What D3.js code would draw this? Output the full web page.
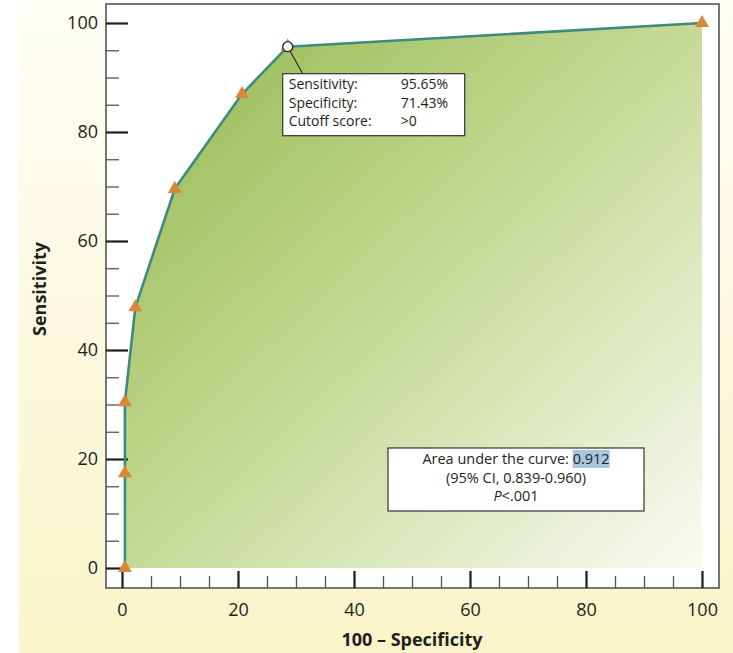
<!DOCTYPE html>
<html>
<head>
<meta charset="utf-8">
<script src="https://cdn.jsdelivr.net/npm/d3@7"></script>
<style>
  html, body { margin: 0; padding: 0; background: #ffffff; }
  svg { display: block; font-family: "Open Sans", "Noto Sans", sans-serif; }
</style>
</head>
<body>
<svg id="chart" width="733" height="653"></svg>
<script>
// ---- data ----
const falsePositiveRate = [0.5, 0.5, 0.5, 2.3, 9.1, 20.7, 28.57, 100];   // 100 - Specificity
const sensitivity       = [0, 17.39, 30.43, 47.83, 69.57, 86.96, 95.65, 100];
const cutoffIndex = 6;
const cutoffLines = [
  ["Sensitivity:", "95.65%"],
  ["Specificity:", "71.43%"],
  ["Cutoff score:", ">0"]
];
const aucLabel = "Area under the curve: ";
const aucValue = "0.912";
const ciLabel = "(95% CI, 0.839-0.960)";
const majorTicks = [0, 20, 40, 60, 80, 100];
const minorTicks = d3.range(5, 100, 5).filter(v => v % 20 !== 0);
const xTitle = "100 \u2013 Specificity";
const yTitle = "Sensitivity";

// ---- layout ----
const svg = d3.select("#chart");
const x = d3.scaleLinear().domain([0, 100]).range([122, 702]);
const y = d3.scaleLinear().domain([0, 100]).range([568, 23]);
const frame = {left: 106, top: 4, right: 719, bottom: 588};
const annFont = 14, annStep = 18.5;

const defs = svg.append("defs");
const bg = defs.append("linearGradient").attr("id", "bgGrad")
  .attr("x1", 0).attr("y1", 0).attr("x2", 0).attr("y2", 1);
bg.append("stop").attr("offset", 0).attr("stop-color", "#fffef6");
bg.append("stop").attr("offset", 1).attr("stop-color", "#f9f4c9");

const ag = defs.append("linearGradient").attr("id", "areaGrad")
  .attr("x1", 0).attr("y1", 0).attr("x2", 1).attr("y2", 1);
ag.append("stop").attr("offset", 0).attr("stop-color", "#92b74b");
ag.append("stop").attr("offset", 0.5).attr("stop-color", "#c6da96");
ag.append("stop").attr("offset", 1).attr("stop-color", "#fafbf4");

// background panel
svg.append("rect").attr("x", 19).attr("y", 0).attr("width", 733 - 19).attr("height", 653)
  .attr("fill", "url(#bgGrad)");

// plot frame
svg.append("rect")
  .attr("x", frame.left).attr("y", frame.top)
  .attr("width", frame.right - frame.left).attr("height", frame.bottom - frame.top)
  .attr("fill", "#ffffff").attr("stroke", "#555555").attr("stroke-width", 1.6);

// area under curve
const pts = falsePositiveRate.map((v, i) => ({fx: v, s: sensitivity[i]}));
const area = d3.area().x(d => x(d.fx)).y0(y(0)).y1(d => y(d.s));
svg.append("path").datum(pts).attr("d", area).attr("fill", "url(#areaGrad)");

// ticks - y axis (inside, pointing right)
const yMajor = svg.append("g").attr("transform", `translate(${frame.left},0)`)
  .call(d3.axisRight(y).tickValues(majorTicks).tickSize(22).tickFormat(""));
const yMinor = svg.append("g").attr("transform", `translate(${frame.left},0)`)
  .call(d3.axisRight(y).tickValues(minorTicks).tickSize(13).tickFormat(""));
// ticks - x axis (inside, pointing up)
const xMajor = svg.append("g").attr("transform", `translate(0,${frame.bottom})`)
  .call(d3.axisTop(x).tickValues(majorTicks).tickSize(17).tickFormat(""));
const xMinor = svg.append("g").attr("transform", `translate(0,${frame.bottom})`)
  .call(d3.axisTop(x).tickValues(minorTicks).tickSize(12).tickFormat(""));
[yMajor, yMinor, xMajor, xMinor].forEach(g => g.select(".domain").remove());
[yMajor, xMajor].forEach(g => g.selectAll(".tick line").attr("stroke", "#1e1e1e").attr("stroke-width", 2.2));
[yMinor, xMinor].forEach(g => g.selectAll(".tick line").attr("stroke", "#555555").attr("stroke-width", 1.3));

// tick labels
const yLab = svg.append("g").attr("transform", `translate(${frame.left - 8},0)`)
  .call(d3.axisLeft(y).tickValues(majorTicks).tickSize(0).tickPadding(0));
const xLab = svg.append("g").attr("transform", `translate(0,${frame.bottom})`)
  .call(d3.axisBottom(x).tickValues(majorTicks).tickSize(0).tickPadding(15));
[yLab, xLab].forEach(g => {
  g.select(".domain").remove();
  g.selectAll("text").attr("font-size", 18).attr("fill", "#231f20")
    .attr("font-family", "'Open Sans', sans-serif");
});

// axis titles
svg.append("text").attr("x", 412).attr("y", 646).attr("text-anchor", "middle")
  .attr("font-size", 18).attr("font-weight", "bold").attr("fill", "#231f20").text(xTitle);
svg.append("text").attr("transform", "translate(46,289) rotate(-90)").attr("text-anchor", "middle")
  .attr("font-size", 18).attr("font-weight", "bold").attr("fill", "#231f20").text(yTitle);

// ROC line
const line = d3.line().x(d => x(d.fx)).y(d => y(d.s));
svg.append("path").datum(pts).attr("d", line).attr("fill", "none")
  .attr("stroke", "#3f8a7e").attr("stroke-width", 2.6).attr("stroke-linejoin", "round");

// triangle markers
const tri = d3.symbol().type(d3.symbolTriangle).size(85);
svg.append("g").selectAll("path").data(pts).join("path")
  .attr("transform", d => `translate(${x(d.fx)},${y(d.s)})`)
  .attr("d", tri).attr("fill", "#d9883a");

// cutoff annotation
const cp = pts[cutoffIndex];
const cx = x(cp.fx), cy = y(cp.s);
const box = {x: cx - 5, y: cy + 27, w: 182, h: 62};
svg.append("line").attr("x1", cx).attr("y1", cy).attr("x2", cx + 15).attr("y2", box.y)
  .attr("stroke", "#222").attr("stroke-width", 1.1);
svg.append("circle").attr("cx", cx).attr("cy", cy).attr("r", 5)
  .attr("fill", "#ffffff").attr("stroke", "#222").attr("stroke-width", 1.3);
svg.append("rect").attr("x", box.x).attr("y", box.y).attr("width", box.w).attr("height", box.h)
  .attr("fill", "#ffffff").attr("stroke", "#333").attr("stroke-width", 1.2);
const ann = svg.append("g");
cutoffLines.forEach((r, i) => {
  ann.append("text").attr("x", box.x + 6).attr("y", box.y + 15.5 + i * annStep)
    .attr("font-size", annFont).attr("fill", "#231f20").text(r[0]);
  ann.append("text").attr("x", box.x + 118).attr("y", box.y + 15.5 + i * annStep)
    .attr("font-size", annFont).attr("fill", "#231f20").text(r[1]);
});

// AUC box
const ab = {x: 388, y: 448, w: 256, h: 63};
svg.append("rect").attr("x", ab.x).attr("y", ab.y).attr("width", ab.w).attr("height", ab.h)
  .attr("fill", "#ffffff").attr("stroke", "#333").attr("stroke-width", 1.2);
const acx = ab.x + ab.w / 2;
const hlG = svg.append("g");
const t1 = svg.append("text").attr("x", acx).attr("y", ab.y + 16).attr("text-anchor", "middle")
  .attr("font-size", annFont + 0.5).attr("fill", "#231f20");
t1.append("tspan").text(aucLabel);
const valSpan = t1.append("tspan").text(aucValue);
const bb = valSpan.node().getBBox();
hlG.append("rect").attr("x", bb.x).attr("y", ab.y + 2).attr("width", bb.width).attr("height", 18)
  .attr("fill", "#a9c6df");
svg.append("text").attr("x", acx).attr("y", ab.y + 16 + annStep).attr("text-anchor", "middle")
  .attr("font-size", annFont + 0.5).attr("fill", "#231f20").text(ciLabel);
const t3 = svg.append("text").attr("x", acx).attr("y", ab.y + 16 + 2 * annStep).attr("text-anchor", "middle")
  .attr("font-size", annFont + 0.5).attr("fill", "#231f20");
t3.append("tspan").attr("font-style", "italic").text("P");
t3.append("tspan").text("<.001");
</script>
</body>
</html>
